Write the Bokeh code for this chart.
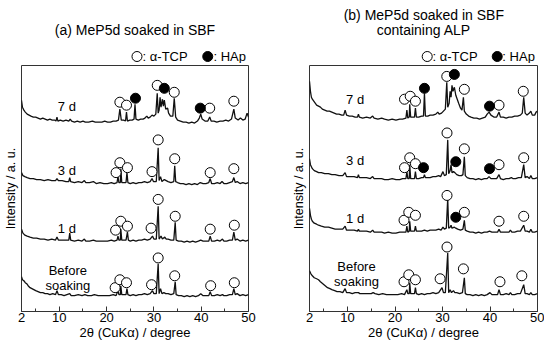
from bokeh.plotting import figure
from bokeh.models import Range1d, FixedTicker, Label
from bokeh.layouts import row, column
from bokeh.embed import file_html
from bokeh.resources import INLINE

FONT = "Liberation Sans"

# ---------------- data: (2theta / degree, intensity a.u. incl. offset) ----------------
a_7d = [(2.0, 213), (2.2, 206), (2.5, 203), (2.8, 201), (3.2, 199), (3.6, 198), (4.0, 197), (4.5, 196), (5.0, 196),
        (5.5, 195), (6.0, 194), (6.5, 195), (7.0, 194), (7.5, 193), (8.0, 194), (8.5, 193), (9.0, 193), (9.3, 192),
        (9.5, 196), (9.7, 192), (10.2, 193), (10.8, 192), (11.4, 193), (12.0, 192), (12.3, 194), (12.6, 192),
        (13.2, 191), (13.8, 192), (14.4, 191), (15.0, 192), (15.5, 191), (16.2, 191), (17.0, 192), (17.6, 191),
        (18.3, 191), (19.0, 191), (19.6, 192), (20.2, 191), (20.8, 191), (21.4, 192), (22.0, 192), (22.5, 193),
        (22.8, 204), (23.1, 193), (23.6, 193), (24.0, 192), (24.2, 201), (24.4, 192), (24.9, 193), (25.4, 193),
        (25.8, 194), (26.0, 209), (26.2, 194), (26.7, 193), (27.2, 194), (27.7, 194), (28.1, 195), (28.5, 197),
        (28.8, 195), (29.2, 196), (29.6, 198), (30.0, 197), (30.4, 199), (30.7, 220), (30.9, 200), (31.1, 203),
        (31.3, 216), (31.5, 206), (31.8, 214), (32.0, 207), (32.2, 213), (32.5, 204), (32.9, 205), (33.1, 200),
        (33.5, 197), (34.0, 197), (34.3, 215), (34.6, 196), (35.0, 193), (35.6, 192), (36.2, 191), (36.8, 191),
        (37.4, 190), (38.0, 191), (38.6, 190), (39.2, 192), (39.6, 195), (39.9, 199), (40.2, 194), (40.8, 192),
        (41.4, 192), (41.8, 196), (42.1, 192), (42.7, 192), (43.3, 191), (44.0, 192), (44.6, 192), (45.2, 193),
        (45.8, 192), (46.4, 194), (46.9, 204), (47.2, 195), (47.8, 193), (48.3, 195), (48.8, 193), (49.3, 194),
        (49.7, 200), (50.0, 196)]
a_3d = [(2.0, 140), (2.3, 137), (2.7, 136), (3.2, 135), (3.8, 134), (4.5, 134), (5.2, 133), (6.0, 133), (6.8, 132),
        (7.6, 133), (8.4, 132), (9.2, 132), (9.5, 134), (9.8, 132), (10.6, 132), (11.4, 131), (12.0, 131),
        (12.2, 135), (12.4, 131), (13.2, 130), (14.0, 131), (14.8, 130), (15.3, 132), (15.6, 130), (16.4, 130),
        (17.2, 131), (17.8, 129), (18.6, 130), (19.4, 129), (20.2, 129), (21.0, 130), (21.6, 129), (22.2, 130),
        (22.4, 136), (22.6, 130), (22.9, 130), (23.0, 144), (23.2, 130), (23.7, 130), (24.1, 130), (24.3, 140),
        (24.5, 130), (25.0, 129), (25.6, 130), (26.2, 129), (26.8, 130), (27.4, 130), (28.0, 131), (28.6, 130),
        (29.2, 131), (29.6, 134), (29.9, 131), (30.5, 131), (30.9, 165), (31.1, 132), (31.4, 136), (31.7, 131),
        (32.2, 133), (32.6, 132), (33.0, 131), (33.6, 130), (34.2, 131), (34.4, 147), (34.6, 131), (35.0, 130),
        (35.6, 129), (36.2, 129), (36.8, 128), (37.4, 129), (38.0, 128), (38.6, 129), (39.2, 128), (39.8, 130),
        (40.4, 129), (41.0, 129), (41.6, 130), (41.9, 134), (42.2, 129), (42.8, 129), (43.4, 130), (44.0, 129),
        (44.4, 131), (44.8, 129), (45.4, 129), (46.0, 130), (46.6, 131), (46.9, 135), (47.2, 130), (47.6, 131),
        (48.2, 129), (48.8, 130), (49.4, 129), (50.0, 130)]
a_1d = [(2.0, 83), (2.3, 79), (2.7, 77), (3.2, 76), (3.8, 75), (4.5, 74), (5.2, 74), (6.0, 73), (6.8, 73), (7.6, 72),
        (8.4, 73), (9.2, 72), (9.5, 75), (9.8, 72), (10.6, 72), (11.4, 72), (12.0, 72), (12.2, 79), (12.4, 72),
        (13.2, 71), (14.0, 72), (14.8, 71), (15.3, 73), (15.6, 71), (16.4, 71), (17.2, 72), (17.8, 71), (18.6, 71),
        (19.4, 71), (20.2, 71), (21.0, 72), (21.6, 71), (22.2, 72), (22.4, 76), (22.6, 72), (22.9, 72), (23.0, 83),
        (23.2, 72), (23.7, 72), (24.1, 72), (24.4, 80), (24.6, 72), (25.0, 71), (25.6, 72), (26.2, 71), (26.8, 72),
        (27.4, 72), (28.0, 73), (28.6, 72), (29.2, 73), (29.7, 76), (30.0, 73), (30.5, 73), (30.9, 106), (31.1, 73),
        (31.5, 76), (31.8, 73), (32.3, 75), (32.6, 73), (33.0, 73), (33.6, 72), (34.2, 72), (34.5, 90), (34.7, 72),
        (35.2, 71), (35.8, 71), (36.4, 70), (37.0, 71), (37.6, 70), (38.2, 71), (38.8, 70), (39.4, 71), (39.9, 72),
        (40.4, 71), (41.0, 71), (41.6, 71), (41.9, 76), (42.2, 71), (42.8, 71), (43.4, 72), (44.0, 71), (44.5, 73),
        (44.8, 71), (45.4, 71), (46.0, 72), (46.6, 72), (46.9, 80), (47.2, 72), (47.6, 73), (48.2, 71), (48.8, 72),
        (49.4, 71), (50.0, 72)]
a_before = [(2.0, 35), (2.2, 32), (2.5, 31), (2.8, 29), (3.1, 28), (3.4, 26), (3.8, 24), (4.2, 23), (4.6, 22),
            (5.0, 21), (5.5, 20), (6.0, 19), (6.5, 19), (7.0, 18), (7.5, 18), (8.0, 17), (8.6, 18), (9.2, 17),
            (9.5, 21), (9.8, 17), (10.4, 17), (11.0, 16), (11.6, 17), (12.2, 18), (12.5, 16), (13.2, 16), (14.0, 17),
            (14.8, 16), (15.4, 17), (16.0, 16), (16.8, 16), (17.4, 17), (18.2, 16), (19.0, 16), (19.8, 16),
            (20.6, 16), (21.4, 17), (22.0, 16), (22.4, 21), (22.6, 17), (22.9, 17), (23.0, 26), (23.2, 17),
            (23.7, 17), (24.1, 17), (24.3, 23), (24.5, 17), (25.0, 16), (25.6, 17), (26.2, 16), (26.8, 17),
            (27.4, 17), (28.0, 18), (28.6, 17), (29.2, 18), (29.7, 21), (30.0, 18), (30.5, 18), (30.9, 48),
            (31.1, 18), (31.4, 23), (31.7, 18), (32.1, 19), (32.5, 18), (33.0, 18), (33.6, 17), (34.2, 18),
            (34.5, 30), (34.7, 17), (35.2, 16), (35.8, 16), (36.4, 15), (37.0, 16), (37.6, 15), (38.2, 16),
            (38.8, 15), (39.4, 16), (39.9, 18), (40.4, 16), (41.0, 16), (41.6, 16), (41.9, 20), (42.2, 16),
            (42.8, 16), (43.4, 17), (44.0, 16), (44.5, 17), (44.8, 16), (45.4, 16), (46.0, 17), (46.6, 17),
            (46.9, 23), (47.2, 17), (47.6, 18), (48.2, 16), (48.8, 17), (49.4, 16), (50.0, 17)]

b_7d = [(2.0, 232), (2.2, 222), (2.4, 216), (2.6, 214), (2.9, 212), (3.2, 210), (3.5, 208), (3.9, 207), (4.3, 206),
        (4.7, 204), (5.2, 203), (5.7, 202), (6.2, 202), (6.7, 201), (7.2, 200), (7.7, 199), (8.2, 199), (8.8, 198),
        (9.2, 198), (9.5, 203), (9.8, 198), (10.4, 197), (11.0, 197), (11.6, 196), (12.1, 196), (12.3, 199),
        (12.5, 196), (13.2, 195), (14.0, 196), (14.8, 195), (15.3, 197), (15.6, 195), (16.4, 194), (17.2, 195),
        (17.8, 194), (18.6, 193), (19.4, 194), (20.2, 193), (21.0, 194), (21.6, 194), (22.3, 195), (22.5, 203),
        (22.7, 195), (23.0, 196), (23.1, 209), (23.3, 196), (23.8, 196), (24.1, 196), (24.3, 205), (24.5, 196),
        (25.0, 196), (25.6, 197), (26.0, 197), (26.2, 220), (26.4, 197), (26.9, 197), (27.4, 198), (28.0, 198),
        (28.6, 199), (29.0, 201), (29.3, 199), (29.8, 200), (30.2, 202), (30.6, 204), (30.9, 231), (31.1, 206),
        (31.4, 210), (31.6, 222), (31.8, 216), (32.0, 228), (32.2, 222), (32.5, 226), (32.8, 218), (33.1, 214),
        (33.4, 210), (33.8, 205), (34.1, 203), (34.4, 216), (34.6, 202), (35.0, 199), (35.5, 197), (36.0, 196),
        (36.6, 195), (37.2, 195), (37.8, 194), (38.4, 195), (39.0, 196), (39.4, 199), (39.8, 201), (40.2, 198),
        (40.8, 196), (41.4, 196), (41.9, 201), (42.2, 196), (42.8, 196), (43.4, 195), (44.0, 196), (44.6, 196),
        (45.2, 197), (45.8, 197), (46.4, 198), (46.8, 200), (47.1, 216), (47.4, 200), (47.8, 198), (48.3, 200),
        (48.6, 202), (48.9, 198), (49.4, 198), (49.7, 201), (50.0, 202)]
b_3d = [(2.0, 154), (2.2, 148), (2.4, 146), (2.6, 144), (3.0, 142), (3.5, 141), (3.9, 140), (4.5, 140), (5.2, 139),
        (6.0, 139), (6.7, 138), (7.4, 138), (8.2, 137), (9.0, 137), (9.5, 140), (9.8, 136), (10.6, 136),
        (11.4, 136), (12.1, 135), (12.3, 138), (12.5, 135), (13.2, 135), (14.0, 135), (14.8, 134), (15.3, 136),
        (15.6, 134), (16.4, 134), (17.2, 134), (17.8, 133), (18.6, 133), (19.4, 134), (20.2, 133), (21.0, 133),
        (21.6, 134), (22.3, 134), (22.5, 141), (22.7, 134), (23.0, 134), (23.1, 148), (23.3, 134), (23.8, 134),
        (24.1, 134), (24.3, 141), (24.5, 134), (25.0, 134), (25.6, 135), (26.0, 135), (26.2, 138), (26.4, 135),
        (26.9, 135), (27.4, 135), (28.0, 136), (28.6, 136), (29.2, 137), (29.6, 136), (30.1, 141), (30.4, 137),
        (30.8, 138), (31.1, 173), (31.3, 139), (31.6, 142), (31.8, 148), (32.0, 140), (32.3, 141), (32.6, 140),
        (33.0, 138), (33.5, 137), (34.0, 137), (34.3, 138), (34.6, 156), (34.8, 137), (35.2, 135), (35.8, 134),
        (36.4, 134), (37.0, 133), (37.6, 134), (38.2, 133), (38.8, 134), (39.4, 134), (39.8, 136), (40.2, 134),
        (40.8, 134), (41.4, 134), (41.9, 138), (42.2, 134), (42.8, 133), (43.4, 134), (44.0, 134), (44.5, 135),
        (44.8, 134), (45.4, 134), (46.0, 135), (46.6, 135), (47.1, 148), (47.4, 135), (47.8, 136), (48.3, 134),
        (48.6, 137), (48.9, 134), (49.4, 134), (50.0, 135)]
b_1d = [(2.0, 104), (2.2, 97), (2.4, 93), (2.6, 91), (3.0, 89), (3.5, 88), (3.9, 87), (4.5, 86), (5.2, 85),
        (6.0, 85), (6.7, 84), (7.4, 83), (8.2, 83), (9.0, 83), (9.5, 86), (9.8, 82), (10.6, 82), (11.4, 82),
        (12.1, 81), (12.3, 83), (12.5, 81), (13.2, 81), (14.0, 81), (14.8, 80), (15.3, 82), (15.6, 80), (16.4, 80),
        (17.2, 80), (17.8, 79), (18.6, 80), (19.4, 79), (20.2, 79), (21.0, 80), (21.6, 80), (22.3, 80), (22.5, 86),
        (22.7, 80), (23.0, 81), (23.1, 91), (23.3, 81), (23.8, 81), (24.1, 81), (24.3, 86), (24.5, 81), (25.0, 81),
        (25.6, 81), (26.2, 82), (26.8, 81), (27.4, 82), (28.0, 82), (28.6, 82), (29.2, 83), (29.7, 82), (30.1, 85),
        (30.4, 83), (30.8, 84), (31.1, 114), (31.3, 84), (31.6, 85), (31.8, 87), (32.0, 84), (32.5, 85), (32.8, 84),
        (33.2, 83), (33.8, 82), (34.3, 83), (34.6, 92), (34.8, 82), (35.2, 81), (35.8, 80), (36.4, 80), (37.0, 79),
        (37.6, 80), (38.2, 79), (38.8, 80), (39.4, 80), (39.9, 81), (40.4, 80), (41.0, 80), (41.6, 80), (41.9, 83),
        (42.2, 80), (42.8, 80), (43.4, 80), (44.0, 80), (44.3, 82), (44.6, 80), (45.2, 80), (45.8, 81), (46.4, 81),
        (47.1, 87), (47.4, 81), (47.8, 81), (48.3, 80), (48.6, 83), (48.9, 80), (49.4, 80), (50.0, 81)]
b_before = [(2.0, 41), (2.3, 38), (2.6, 36), (3.0, 34), (3.5, 33), (3.9, 32), (4.3, 30), (4.8, 28), (5.3, 26),
            (5.8, 24), (6.3, 23), (6.7, 22), (7.3, 21), (7.8, 20), (8.4, 20), (9.0, 19), (9.5, 23), (9.8, 19),
            (10.4, 19), (11.0, 18), (11.6, 19), (12.3, 19), (12.6, 18), (13.4, 18), (14.2, 18), (15.0, 18),
            (15.4, 19), (15.8, 18), (16.6, 17), (17.4, 18), (18.2, 17), (19.0, 17), (19.8, 17), (20.6, 17),
            (21.4, 18), (22.0, 17), (22.5, 22), (22.7, 18), (23.0, 18), (23.1, 29), (23.3, 18), (23.8, 18),
            (24.1, 18), (24.3, 24), (24.5, 18), (25.0, 17), (25.6, 18), (26.2, 17), (26.8, 18), (27.4, 18),
            (28.0, 19), (28.6, 18), (29.2, 19), (29.9, 24), (30.2, 19), (30.6, 19), (31.1, 59), (31.3, 19),
            (31.6, 22), (31.9, 19), (32.3, 21), (32.6, 19), (33.0, 19), (33.6, 18), (34.2, 19), (34.6, 34),
            (34.8, 18), (35.2, 17), (35.8, 17), (36.4, 16), (37.0, 17), (37.6, 16), (38.2, 17), (38.8, 16),
            (39.4, 17), (40.0, 19), (40.4, 17), (41.0, 17), (41.6, 17), (41.9, 22), (42.2, 17), (42.8, 17),
            (43.4, 18), (44.0, 17), (44.3, 19), (44.6, 17), (45.2, 17), (45.8, 18), (46.4, 18), (47.1, 27),
            (47.4, 18), (47.8, 18), (48.3, 17), (48.6, 19), (48.9, 17), (49.4, 17), (50.0, 18)]

# phase markers (2theta, position above the peak)
a_tcp = [(22.8, 211), (24.2, 208), (30.7, 228), (34.3, 221), (41.8, 205), (46.9, 212),
         (22.0, 140), (22.8, 150), (24.4, 145), (29.6, 141), (30.9, 173), (34.4, 154), (41.9, 140), (46.9, 144),
         (21.9, 82), (23.0, 91), (24.4, 86), (29.4, 84), (30.9, 113), (34.5, 96), (41.9, 83), (47.0, 87),
         (21.8, 24), (22.8, 32), (24.2, 29), (29.5, 27), (30.9, 54), (34.4, 36), (42.0, 26), (47.0, 29)]
a_hap = [(26.1, 215), (32.2, 225), (39.8, 205)]
b_tcp = [(22.0, 214), (23.2, 217), (24.3, 212), (30.9, 237), (34.6, 224), (41.9, 208), (47.0, 222),
         (22.0, 145), (23.1, 155), (24.3, 149), (30.95, 180), (34.6, 164), (41.9, 148), (47.1, 155),
         (21.9, 92), (22.9, 100), (24.3, 97), (30.95, 117), (34.6, 100), (41.9, 91), (47.1, 96),
         (21.9, 30), (22.9, 37), (24.3, 32), (29.5, 33), (30.95, 65), (34.4, 43), (42.1, 30), (46.7, 36)]
b_hap = [(26.2, 225), (32.5, 239), (39.9, 207), (26.0, 145), (32.8, 151), (39.9, 144), (32.8, 95)]

trace_labels = ["7 d", "3 d", "1 d", "Before", "soaking"]
a_label_pos = [(11.6, 207), (11.6, 142), (11.6, 84), (11.8, 41), (11.8, 26)]
b_label_pos = [(11.6, 214), (11.6, 152), (11.6, 94), (11.9, 45), (11.9, 30)]

a_title = ["(a) MeP5d soaked in SBF"]
b_title = ["(b) MeP5d soaked in SBF", "containing ALP"]
legend_labels = [": α-TCP", ": HAp"]

x_ticks = [2, 10, 20, 30, 40, 50]
x_minor = [5, 15, 25, 35, 45]

# ---------------- layout constants ----------------
HEAD_H = 63
PLOT_H = 279
W1, W2 = 271, 273


def make_header(width, border_left, border_right, title_lines, title_cx, key_x, text_x):
    """Titles and the phase key in a strip above each panel; x shares the panel's 2theta scale."""
    h = figure(width=width, height=HEAD_H, x_range=Range1d(2, 50), y_range=Range1d(0, HEAD_H),
               min_border_left=border_left, min_border_right=border_right, min_border_top=0,
               min_border_bottom=0, x_axis_location=None, y_axis_location=None, title=None,
               output_backend="svg", toolbar_location=None)
    h.grid.visible = False
    h.outline_line_color = None
    n = len(title_lines)
    for i, t in enumerate(title_lines):
        h.add_layout(Label(x=title_cx, y=34 + 15 * (n - 1 - i), text=t, text_align="center",
                           text_baseline="middle", text_font=FONT, text_font_size="14px", text_color="black"))
    # key: open circle = alpha-TCP, filled circle = HAp
    h.scatter(x=[key_x[0]], y=[7], marker="circle", size=10, fill_color="white", line_color="black",
              line_width=1)
    h.scatter(x=[key_x[1]], y=[7], marker="circle", size=10, fill_color="black", line_color="black",
              line_width=1)
    for lbl, tx in zip(legend_labels, text_x):
        h.add_layout(Label(x=tx, y=7, text=lbl, text_align="left", text_baseline="middle",
                           text_font=FONT, text_font_size="13px", text_color="black"))
    return h


def make_panel(width, traces, tcp, hap, label_pos, border_left, border_right):
    p = figure(width=width, height=PLOT_H, min_border_left=border_left, min_border_right=border_right,
               min_border_top=2, min_border_bottom=0, title=None,
               x_range=Range1d(2, 50), y_range=Range1d(0, 248),
               output_backend="svg", toolbar_location=None)
    p.grid.visible = False
    p.outline_line_color = "#333333"
    p.outline_line_width = 1

    ax = p.xaxis[0]
    ax.ticker = FixedTicker(ticks=x_ticks, minor_ticks=x_minor)
    ax.major_tick_in = 5
    ax.major_tick_out = 0
    ax.minor_tick_in = 3
    ax.minor_tick_out = 0
    ax.axis_line_color = "#333333"
    ax.major_tick_line_color = "#333333"
    ax.minor_tick_line_color = "#333333"
    ax.major_label_text_font = FONT
    ax.major_label_text_font_size = "13px"
    ax.major_label_text_color = "black"
    ax.major_label_standoff = 1
    ax.axis_label = "2θ (CuKα) / degree"
    ax.axis_label_text_font = FONT
    ax.axis_label_text_font_size = "13px"
    ax.axis_label_text_font_style = "normal"
    ax.axis_label_text_color = "black"
    ax.axis_label_standoff = 0

    ay = p.yaxis[0]
    ay.ticker = FixedTicker(ticks=[])
    ay.axis_line_color = None
    ay.major_tick_line_color = None
    ay.minor_tick_line_color = None
    ay.axis_label = "Intensity / a. u."
    ay.axis_label_text_font = FONT
    ay.axis_label_text_font_size = "12.5px"
    ay.axis_label_text_font_style = "normal"
    ay.axis_label_text_color = "black"
    ay.axis_label_standoff = 4

    for tr in traces:
        p.line([t[0] for t in tr], [t[1] for t in tr], line_color="#111111", line_width=1.3)

    p.scatter([t[0] for t in tcp], [t[1] for t in tcp], marker="circle", size=10,
              fill_color="white", line_color="black", line_width=1)
    p.scatter([t[0] for t in hap], [t[1] for t in hap], marker="circle", size=10,
              fill_color="black", line_color="black", line_width=1)

    for txt, (lx, ly) in zip(trace_labels, label_pos):
        p.add_layout(Label(x=lx, y=ly, text=txt, text_align="center", text_baseline="middle",
                           text_font=FONT, text_font_size="13px", text_color="black"))
    return p


h1 = make_header(W1, 18, 23, a_title, 26.0, (26.42, 41.38), (27.6, 42.6))
p1 = make_panel(W1, [a_7d, a_3d, a_1d, a_before], a_tcp, a_hap, a_label_pos, 18, 23)
h2 = make_header(W2, 38, 7, b_title, 26.06, (26.78, 41.52), (27.9, 42.6))
p2 = make_panel(W2, [b_7d, b_3d, b_1d, b_before], b_tcp, b_hap, b_label_pos, 38, 7)

layout = row(column(h1, p1), column(h2, p2))
open("out.html", "w").write(file_html(layout, INLINE))
